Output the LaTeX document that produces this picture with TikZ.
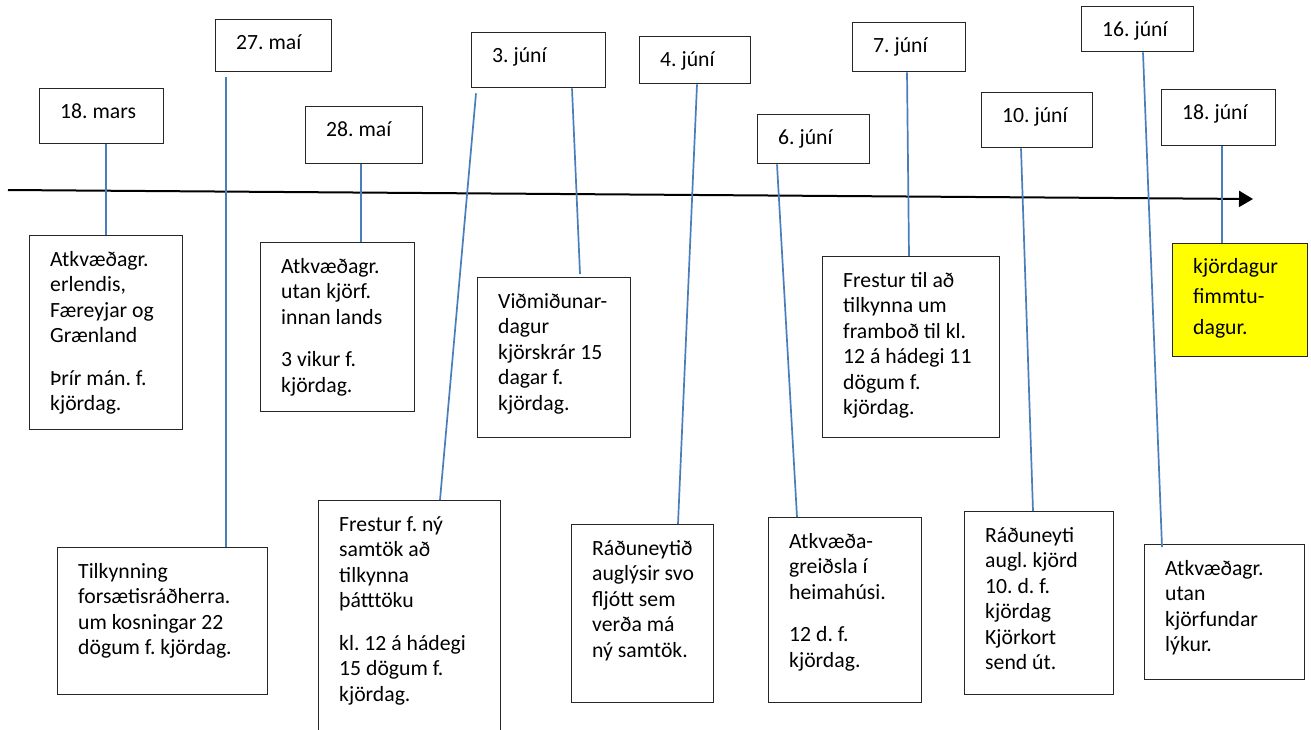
\documentclass[tikz,border=0pt]{standalone}
\usepackage{fontspec}
\setmainfont{Carlito}
\usetikzlibrary{arrows.meta}
\definecolor{connc}{HTML}{4A7EBB}
\definecolor{boxline}{HTML}{262626}
\definecolor{hiyellow}{HTML}{FFFF00}
\frenchspacing
\begin{document}
\begin{tikzpicture}[x=1pt,y=-1pt,
  box/.style={draw=boxline,line width=1.3pt,rectangle,inner sep=0pt,anchor=north west},
  txt/.style={anchor=north west,inner sep=0pt,align=left,font=\fontsize{21.7}{25.5}\selectfont},
  ytxt/.style={anchor=north west,inner sep=0pt,align=left,font=\fontsize{21.7}{30.5}\selectfont},
  conn/.style={draw=connc,line width=1.7pt},
  timeline/.style={draw=black,line width=2pt,-{Triangle[length=14pt,width=16pt]}}]
\useasboundingbox (0,0) rectangle (1311,729);
\clip (0,0) rectangle (1311,729);
\fill[white] (0,0) rectangle (1311,729);

% timeline
\coordinate (tl0) at (8,190);
\coordinate (tl1) at (1253,199);
\draw[timeline] (tl0) -- (tl1);

% date boxes
\node[box,minimum width=124,minimum height=55] (A) at (39,88) {};
\node[box,minimum width=116,minimum height=52] (B) at (215,19) {};
\node[box,minimum width=117,minimum height=57] (C) at (305,106) {};
\node[box,minimum width=134,minimum height=55] (D) at (471,32) {};
\node[box,minimum width=111,minimum height=47] (E) at (639,36) {};
\node[box,minimum width=112,minimum height=49] (F) at (757,114) {};
\node[box,minimum width=113,minimum height=49] (G) at (852,22) {};
\node[box,minimum width=111,minimum height=55] (H) at (981,92) {};
\node[box,minimum width=112,minimum height=45] (I) at (1081,6) {};
\node[box,minimum width=114,minimum height=56] (J) at (1161,89) {};

\node[txt] (At) at ([shift={(21,10.5)}]A.north west) {\rule{0pt}{20pt}18. mars};
\node[txt] (Bt) at ([shift={(21,10.5)}]B.north west) {\rule{0pt}{20pt}27. maí};
\node[txt] (Ct) at ([shift={(21,10.5)}]C.north west) {\rule{0pt}{20pt}28. maí};
\node[txt] (Dt) at ([shift={(21,10.5)}]D.north west) {\rule{0pt}{20pt}3. júní};
\node[txt] (Et) at ([shift={(21,10.5)}]E.north west) {\rule{0pt}{20pt}4. júní};
\node[txt] (Ft) at ([shift={(21,10.5)}]F.north west) {\rule{0pt}{20pt}6. júní};
\node[txt] (Gt) at ([shift={(21,10.5)}]G.north west) {\rule{0pt}{20pt}7. júní};
\node[txt] (Ht) at ([shift={(21,10.5)}]H.north west) {\rule{0pt}{20pt}10. júní};
\node[txt] (It) at ([shift={(21,10.5)}]I.north west) {\rule{0pt}{20pt}16. júní};
\node[txt] (Jt) at ([shift={(21,10.5)}]J.north west) {\rule{0pt}{20pt}18. júní};

% description boxes
\node[box,minimum width=153,minimum height=194] (a) at (29,235) {};
\node[box,minimum width=210,minimum height=147] (b) at (57,547) {};
\node[box,minimum width=154,minimum height=169] (c) at (260,242) {};
\node[box,minimum width=182,minimum height=260] (d) at (318,500) {};
\node[box,minimum width=153,minimum height=160] (e) at (477,277) {};
\node[box,minimum width=142,minimum height=178] (f) at (571,524) {};
\node[box,minimum width=153,minimum height=185] (g) at (768,517) {};
\node[box,minimum width=177,minimum height=181] (h) at (822,256) {};
\node[box,minimum width=149,minimum height=183] (i) at (964,511) {};
\node[box,minimum width=160,minimum height=135] (j) at (1144,544) {};
\node[box,fill=hiyellow,minimum width=135,minimum height=113] (k) at (1172,243) {};

\node[txt] (at) at ([shift={(21,11)}]a.north west) {\rule{0pt}{20pt}Atkvæðagr.\\erlendis,\\Færeyjar og\\Grænland\\[17pt]Þrír mán. f.\\kjördag.};
\node[txt] (bt) at ([shift={(21,11)}]b.north west) {\rule{0pt}{20pt}Tilkynning\\forsætisráðherra.\\um kosningar 22\\dögum f. kjördag.};
\node[txt] (ct) at ([shift={(21,11)}]c.north west) {\rule{0pt}{20pt}Atkvæðagr.\\utan kjörf.\\innan lands\\[17pt]3 vikur f.\\kjördag.};
\node[txt] (dt) at ([shift={(21,11)}]d.north west) {\rule{0pt}{20pt}Frestur f. ný\\samtök að\\tilkynna\\þátttöku\\[17pt]kl. 12 á hádegi\\15 dögum f.\\kjördag.};
\node[txt] (et) at ([shift={(21,11)}]e.north west) {\rule{0pt}{20pt}Viðmiðunar-\\dagur\\kjörskrár 15\\dagar f.\\kjördag.};
\node[txt] (ft) at ([shift={(21,11)}]f.north west) {\rule{0pt}{20pt}Ráðuneytið\\auglýsir svo\\fljótt sem\\verða má\\ný samtök.};
\node[txt] (gt) at ([shift={(21,11)}]g.north west) {\rule{0pt}{20pt}Atkvæða-\\greiðsla í\\heimahúsi.\\[17pt]12 d. f.\\kjördag.};
\node[txt] (ht) at ([shift={(21,11)}]h.north west) {\rule{0pt}{20pt}Frestur til að\\tilkynna um\\framboð til kl.\\12 á hádegi 11\\dögum f.\\kjördag.};
\node[txt] (it) at ([shift={(21,11)}]i.north west) {\rule{0pt}{20pt}Ráðuneyti\\augl. kjörd\\10. d. f.\\kjördag\\Kjörkort\\send út.};
\node[txt] (jt) at ([shift={(21,11)}]j.north west) {\rule{0pt}{20pt}Atkvæðagr.\\utan\\kjörfundar\\lýkur.};
\node[ytxt] (kt) at ([shift={(21,10)}]k.north west) {\rule{0pt}{20pt}kjördagur\\fimmtu-\\dagur.};

% connectors
\draw[conn] ([shift={(67,0)}]A.south west) -- ([shift={(77,0)}]a.north west);
\draw[conn] ([shift={(11,5)}]B.south west) -- ([shift={(169,0)}]b.north west);
\draw[conn] ([shift={(56,0)}]C.south west) -- ([shift={(101,0)}]c.north west);
\draw[conn] ([shift={(5,5)}]D.south west) -- ([shift={(122,0)}]d.north west);
\draw[conn] ([shift={(101,0)}]D.south west) -- ([shift={(103,-3)}]e.north west);
\draw[conn] ([shift={(58,0)}]E.south west) -- ([shift={(107,0)}]f.north west);
\draw[conn] ([shift={(20,0)}]F.south west) -- ([shift={(29,0)}]g.north west);
\draw[conn] ([shift={(55,0)}]G.south west) -- ([shift={(87,0)}]h.north west);
\draw[conn] ([shift={(40,0)}]H.south west) -- ([shift={(69,0)}]i.north west);
\draw[conn] ([shift={(62,0)}]I.south west) -- ([shift={(18,3)}]j.north west);
\draw[conn] ([shift={(61,0)}]J.south west) -- ([shift={(50,0)}]k.north west);
\end{tikzpicture}
\end{document}
